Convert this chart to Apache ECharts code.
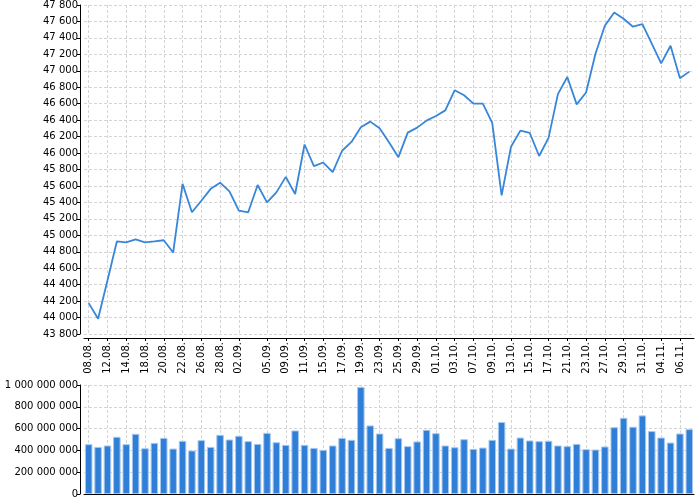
<!DOCTYPE html>
<html>
<head>
<meta charset="utf-8">
<script src="https://cdn.jsdelivr.net/npm/echarts@6/dist/echarts.min.js"></script>
<style>
html,body{margin:0;padding:0;background:#fff;}
#chart{width:700px;height:500px;}
</style>
</head>
<body>
<div id="chart"></div>
<script>
var dates = ["08.08.","11.08.","12.08.","13.08.","14.08.","15.08.","18.08.","19.08.","20.08.","21.08.",
"22.08.","25.08.","26.08.","27.08.","28.08.","29.08.","02.09.","03.09.","04.09.","05.09.",
"08.09.","09.09.","10.09.","11.09.","12.09.","15.09.","16.09.","17.09.","18.09.","19.09.",
"22.09.","23.09.","24.09.","25.09.","26.09.","29.09.","30.09.","01.10.","02.10.","03.10.",
"06.10.","07.10.","08.10.","09.10.","10.10.","13.10.","14.10.","15.10.","16.10.","17.10.",
"20.10.","21.10.","22.10.","23.10.","24.10.","27.10.","28.10.","29.10.","30.10.","31.10.",
"03.11.","04.11.","05.11.","06.11.","07.11."];

var tickLabels = ["08.08.","12.08.","14.08.","18.08.","20.08.","22.08.","26.08.","28.08.","02.09.",
"05.09.","09.09.","11.09.","15.09.","17.09.","19.09.","23.09.","25.09.","29.09.","01.10.","03.10.",
"07.10.","09.10.","13.10.","15.10.","17.10.","21.10.","23.10.","27.10.","29.10.","31.10.","04.11.","06.11."];

var closeValues = [44175,43985,44450,44925,44915,44950,44915,44925,44940,44790,
45625,45280,45420,45565,45640,45535,45300,45280,45612,45400,
45522,45710,45502,46104,45840,45885,45768,46028,46135,46313,
46382,46301,46131,45950,46248,46309,46394,46450,46519,46764,
46703,46600,46600,46368,45485,46077,46273,46244,45964,46184,
46717,46925,46592,46736,47208,47548,47710,47633,47536,47568,
47330,47090,47305,46910,46990];

var volumeMillions = [457,432,445,525,457,552,420,469,515,417,
488,399,494,432,543,500,534,485,460,561,
475,451,583,451,423,405,445,515,497,982,
629,555,423,512,439,482,589,558,445,429,
503,414,426,497,660,417,518,491,485,488,
445,439,460,411,408,436,613,699,617,721,
577,518,472,555,595];

var priceTicks = {min: 43800, max: 47800, step: 200};
var volumeTicks = {min: 0, max: 1000000000, step: 200000000};

function fmt(v){ return String(v).replace(/\B(?=(\d{3})+(?!\d))/g, ' '); }
function isLabeled(i, v){ return tickLabels.indexOf(dates[i]) >= 0; }

var FONT = 'DejaVu Sans';
var gridLine = {show: true, lineStyle: {color: '#d4d4d4', type: [3, 2], width: 1}};

var chart = echarts.init(document.getElementById('chart'), null, {renderer: 'canvas'});
chart.setOption({
  animation: false,
  grid: [
    {left: 84, right: 6, top: 5, height: 329},
    {left: 84, right: 6, top: 385, height: 109}
  ],
  xAxis: [
    {
      type: 'category', gridIndex: 0, data: dates, offset: 4,
      axisLine: {show: true, lineStyle: {color: '#000', width: 1}},
      axisTick: {show: true, alignWithLabel: true, interval: isLabeled, length: 3, lineStyle: {color: '#000'}},
      axisLabel: {show: true, rotate: 90, interval: isLabeled, fontFamily: FONT, fontSize: 10, color: '#000', margin: 4},
      splitLine: {show: true, alignWithLabel: true, interval: isLabeled, lineStyle: gridLine.lineStyle}
    },
    {
      type: 'category', gridIndex: 1, data: dates,
      axisLine: {show: true, lineStyle: {color: '#000', width: 1}},
      axisTick: {show: false},
      axisLabel: {show: false, interval: isLabeled},
      splitLine: {show: true, alignWithLabel: true, interval: isLabeled, lineStyle: gridLine.lineStyle}
    }
  ],
  yAxis: [
    {
      type: 'value', gridIndex: 0, min: priceTicks.min, max: priceTicks.max, interval: priceTicks.step, offset: 4,
      axisLine: {show: true, lineStyle: {color: '#000', width: 1}},
      axisTick: {show: true, length: 3, lineStyle: {color: '#000'}},
      axisLabel: {fontFamily: FONT, fontSize: 10, color: '#000', margin: 2, formatter: fmt},
      splitLine: gridLine
    },
    {
      type: 'value', gridIndex: 1, min: volumeTicks.min, max: volumeTicks.max, interval: volumeTicks.step, offset: 4,
      axisLine: {show: true, lineStyle: {color: '#000', width: 1}},
      axisTick: {show: true, length: 3, lineStyle: {color: '#000'}},
      axisLabel: {fontFamily: FONT, fontSize: 10, color: '#000', margin: 2, formatter: fmt},
      splitLine: gridLine
    }
  ],
  series: [
    {
      type: 'line', xAxisIndex: 0, yAxisIndex: 0, data: closeValues,
      showSymbol: false, symbol: 'none',
      lineStyle: {color: '#3786da', width: 1.8}
    },
    {
      type: 'bar', xAxisIndex: 1, yAxisIndex: 1,
      data: volumeMillions.map(function(v){ return v * 1000000; }),
      barWidth: '80%',
      itemStyle: {color: '#2f7ed8', borderColor: '#a6c8ef', borderWidth: 1}
    }
  ]
});
</script>
</body>
</html>
